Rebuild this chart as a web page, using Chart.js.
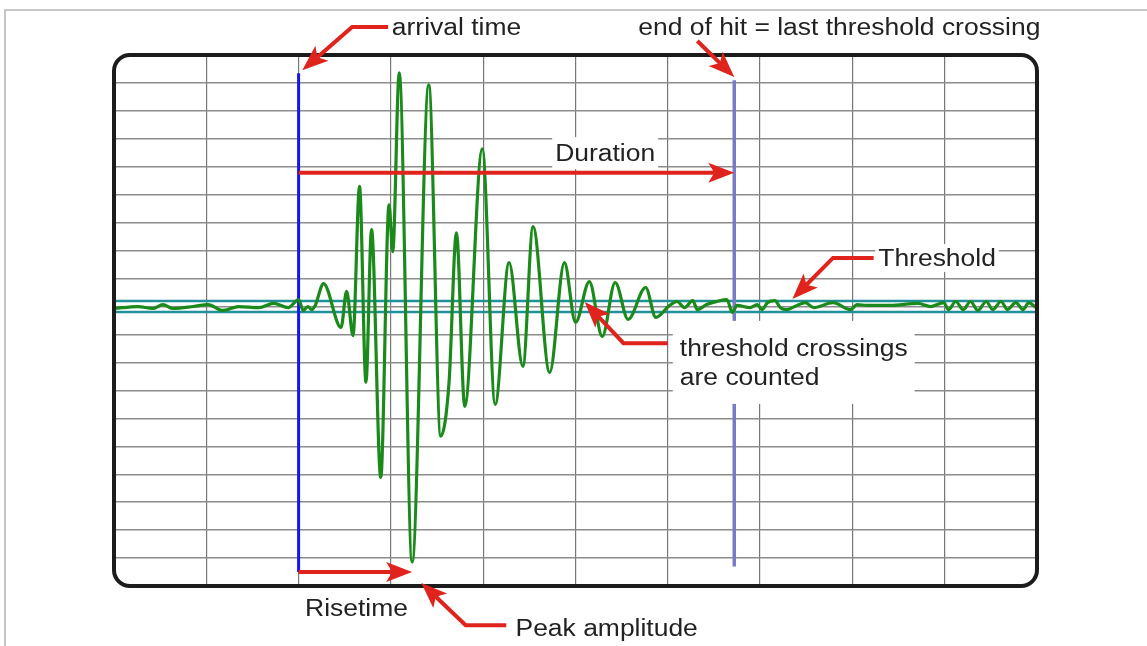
<!DOCTYPE html>
<html>
<head>
<meta charset="utf-8">
<script src="https://cdn.jsdelivr.net/npm/chart.js@4.4.1/dist/chart.umd.min.js"></script>
<style>
  html, body { margin: 0; padding: 0; background: #fff; }
  canvas { display: block; }
</style>
</head>
<body>
<canvas id="hitChart" width="1147" height="646"></canvas>
<script>
// AE hit waveform: time (x100 = one grid division), amplitude (grid divisions)
const waveTime = [
    0, 26, 42, 53, 64, 86, 102, 118, 135, 157,
    173, 189, 200, 205, 210, 214, 218, 227, 246, 252,
    259, 266, 273, 279, 289, 298, 302, 309, 323, 341,
    354, 363, 371, 380, 399, 413, 428, 443, 454, 472,
    488, 500, 515, 529, 543, 557, 576, 587, 602, 610,
    618, 627, 632, 642, 653, 664, 670, 675, 689, 697,
    702, 708, 716, 722, 729, 740, 749, 758, 779, 798,
    805, 816, 841, 871, 885, 899, 904, 912, 920, 928,
    936, 945, 952, 961, 968, 977, 985, 991, 999
];
const waveAmp = [
    -0.07, 0, -0.07, 0.07, -0.07, 0, 0.07, -0.14, 0, -0.04,
    0.11, -0.04, 0.25, -0.14, 0, -0.11, 0.04, 0.82, -0.75, 0.54,
    -1.04, 4.3, -2.71, 2.75, -6.11, 3.64, 1.96, 8.36, -9.14, 7.93,
    -4.64, -2.71, 2.64, -3.57, 5.64, -3.5, 1.57, -2.14, 2.86, -2.36,
    1.57, -0.57, 0.89, -1.07, 0.86, -0.46, 0.68, -0.39, 0.04, 0.18,
    -0.04, 0.21, -0.11, 0.07, 0.18, 0.25, -0.21, 0.04, -0.04, 0.07,
    -0.11, 0.14, 0.21, -0.04, -0.11, 0.04, 0.14, -0.04, 0.14, -0.11,
    0.07, 0.04, 0.04, 0.11, 0, 0.14, -0.11, 0.18, -0.11, 0.18,
    -0.14, 0.18, -0.11, 0.18, -0.11, 0.14, -0.11, 0.14, -0.04
];

// hit features
const threshold = 0.2;
const arrivalTime = 200;
const endOfHit = 672;
const peakTime = 323;
const durationLevel = 4.79;
const risetimeLevel = -9.5;
const markerTop = [8.35, 8.1];      // arrival, end of hit
const markerBottom = [-9.5, -9.3];

// axis range (grid divisions)
const timeMin = 0, timeMax = 1000, timeStep = 100;
const ampMin = -10, ampMax = 9, ampStep = 1;

const RED = '#e0231c';
const TEXT = '#222';
const FONT = '23px "Liberation Sans", Arial, sans-serif';
const TEXT_STRETCH = 1.15;   // lettering in the original is a bit wider than Arial

// callouts, anchored in data units
const labels = [
    { lines: ['arrival time'], t: 301, a: 10.0 },
    { lines: ['end of hit = last threshold crossing'], t: 568, a: 10.0 },
    { lines: ['Duration'], t: 478, a: 5.49, box: [3, 16] },
    { lines: ['Threshold'], t: 828, a: 1.74, box: [3, 14] },
    { lines: ['threshold crossings', 'are counted'], t: 613, a: -1.48, box: [7, 27] },
    { lines: ['Risetime'], t: 207, a: -10.79 },
    { lines: ['Peak amplitude'], t: 435, a: -11.5 }
];

const arrows = [
    [[arrivalTime, durationLevel], [endOfHit, durationLevel]],
    [[arrivalTime, risetimeLevel], [peakTime, risetimeLevel]],
    [[297, 10], [258, 10], [204, 8.45]],
    [[632, 9.5], [672, 8.21]],
    [[823, 1.74], [779, 1.74], [735, 0.27]],
    [[600, -1.31], [552, -1.31], [510, 0.16]],
    [[425, -11.4], [381, -11.4], [333, -9.89]]
];

function drawArrow(ctx, pts) {
    const n = pts.length;
    const [tx, ty] = pts[n - 1];
    const [fx, fy] = pts[n - 2];
    const ang = Math.atan2(ty - fy, tx - fx);
    const c = Math.cos(ang), s = Math.sin(ang);
    const len = 26, half = 10;
    const bx = tx - len * c, by = ty - len * s;

    ctx.beginPath();
    ctx.moveTo(pts[0][0], pts[0][1]);
    for (let i = 1; i < n - 1; i++) ctx.lineTo(pts[i][0], pts[i][1]);
    ctx.lineTo(bx + 6 * c, by + 6 * s);
    ctx.stroke();

    ctx.beginPath();
    ctx.moveTo(tx, ty);
    ctx.lineTo(bx + half * s, by - half * c);
    ctx.lineTo(bx + 6 * c, by + 6 * s);
    ctx.lineTo(bx - half * s, by + half * c);
    ctx.closePath();
    ctx.fill();
}

// hide the grid lines that sit on the rounded border
function innerGrid(color, lo, hi) {
    return ctx => (ctx.tick && (ctx.tick.value === lo || ctx.tick.value === hi)) ? 'rgba(0,0,0,0)' : color;
}

const annotate = {
    id: 'annotate',
    afterDatasetsDraw(chart) {
        const { ctx, chartArea: area, scales: { x, y } } = chart;
        ctx.save();

        // light outer frame
        ctx.strokeStyle = '#c6c6c6';
        ctx.lineWidth = 2;
        ctx.beginPath();
        ctx.moveTo(5, chart.height);
        ctx.lineTo(5, 10);
        ctx.lineTo(chart.width, 10);
        ctx.stroke();

        // scope screen border
        ctx.strokeStyle = '#1c1c1c';
        ctx.lineWidth = 4;
        ctx.beginPath();
        ctx.roundRect(area.left, area.top, area.right - area.left, area.bottom - area.top, 16);
        ctx.stroke();

        ctx.font = FONT;
        ctx.textBaseline = 'middle';
        ctx.textAlign = 'left';
        const lineGap = 29;
        const nudge = 2;

        labels.forEach(l => {
            const px = x.getPixelForValue(l.t);
            const py = y.getPixelForValue(l.a);
            if (l.box) {
                const w = Math.max(...l.lines.map(s => ctx.measureText(s).width)) * TEXT_STRETCH;
                const [padX, padY] = l.box;
                ctx.fillStyle = '#fff';
                ctx.fillRect(px - padX, py - padY, w + 2 * padX, (l.lines.length - 1) * lineGap + 2 * padY);
            }
            ctx.fillStyle = TEXT;
            l.lines.forEach((s, i) => {
                ctx.save();
                ctx.translate(px, py + nudge + i * lineGap);
                ctx.scale(TEXT_STRETCH, 1);
                ctx.fillText(s, 0, 0);
                ctx.restore();
            });
        });

        ctx.strokeStyle = RED;
        ctx.fillStyle = RED;
        ctx.lineWidth = 4;
        ctx.lineJoin = 'miter';
        arrows.forEach(a => {
            drawArrow(ctx, a.map(([t, v]) => [x.getPixelForValue(t), y.getPixelForValue(v)]));
        });

        ctx.restore();
    }
};

const signal = waveTime.map((t, i) => ({ x: t, y: waveAmp[i] }));

new Chart(document.getElementById('hitChart'), {
    type: 'line',
    data: {
        datasets: [
            {
                data: signal,
                borderColor: '#1a8a1a',
                borderWidth: 3.2,
                pointRadius: 0,
                cubicInterpolationMode: 'monotone',
                order: 0
            },
            {
                data: [{ x: timeMin, y: threshold }, { x: timeMax, y: threshold }],
                borderColor: '#21909a',
                borderWidth: 2.5,
                pointRadius: 0,
                order: 2
            },
            {
                data: [{ x: timeMin, y: -threshold }, { x: timeMax, y: -threshold }],
                borderColor: '#21909a',
                borderWidth: 2.5,
                pointRadius: 0,
                order: 2
            },
            {
                data: [{ x: arrivalTime, y: markerTop[0] }, { x: arrivalTime, y: markerBottom[0] }],
                borderColor: '#1414f0',
                borderWidth: 3,
                pointRadius: 0,
                order: 1
            },
            {
                data: [{ x: endOfHit, y: markerTop[1] }, { x: endOfHit, y: markerBottom[1] }],
                borderColor: '#7a7ac6',
                borderWidth: 3.5,
                pointRadius: 0,
                order: 1
            }
        ]
    },
    options: {
        responsive: false,
        animation: false,
        layout: { padding: { left: 114, right: 110, top: 55, bottom: 60 } },
        plugins: {
            legend: { display: false },
            tooltip: { enabled: false }
        },
        scales: {
            x: {
                type: 'linear',
                min: timeMin,
                max: timeMax,
                ticks: { display: false, stepSize: timeStep },
                grid: { color: innerGrid('#777', timeMin, timeMax), lineWidth: 1.2, drawTicks: false },
                border: { display: false }
            },
            y: {
                type: 'linear',
                min: ampMin,
                max: ampMax,
                ticks: { display: false, stepSize: ampStep },
                grid: { color: innerGrid('#8c8c8c', ampMin, ampMax), lineWidth: 1.4, drawTicks: false },
                border: { display: false }
            }
        }
    },
    plugins: [annotate]
});
</script>
</body>
</html>
